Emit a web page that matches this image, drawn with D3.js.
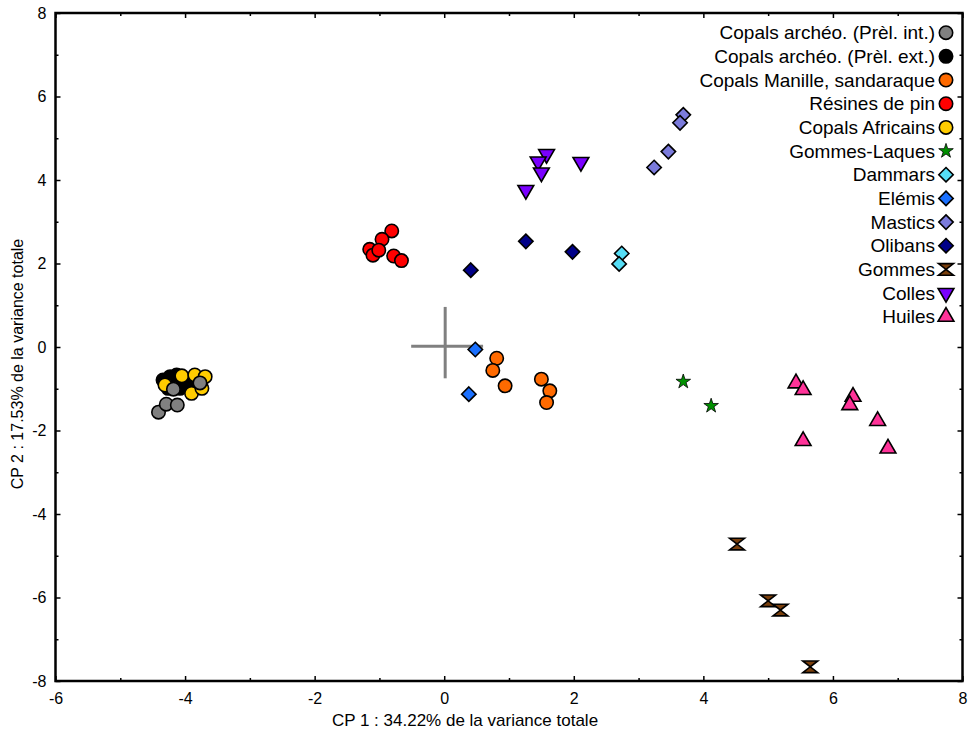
<!DOCTYPE html>
<html>
<head>
<meta charset="utf-8">
<script src="https://cdn.jsdelivr.net/npm/d3@7"></script>
<style>
  html, body { margin: 0; padding: 0; background: #fff; }
  svg { display: block; font-family: "Liberation Sans", Arial, sans-serif; }
</style>
</head>
<body>
<svg id="chart" width="970" height="733"></svg>
<script>
// ---------- DATA ----------
const xDomain = [-6, 8];
const yDomain = [-8, 8];
const xMajorTicks = [-6, -4, -2, 0, 2, 4, 6, 8];
const yMajorTicks = [-8, -6, -4, -2, 0, 2, 4, 6, 8];
const xMinorTicks = [-5, -3, -1, 1, 3, 5, 7];
const yMinorTicks = [-7, -5, -3, -1, 1, 3, 5, 7];

const xTitle = "CP 1 : 34.22% de la variance totale";
const yTitle = "CP 2 : 17.53% de la variance totale";

const seriesNames = [
  "Copals archéo. (Prèl. int.)", "Copals archéo. (Prèl. ext.)", "Copals Manille, sandaraque",
  "Résines de pin", "Copals Africains", "Gommes-Laques", "Dammars", "Elémis",
  "Mastics", "Olibans", "Gommes", "Colles", "Huiles"
];
const seriesColors = [
  "#808080", "#000000", "#ff6a00", "#ff0000", "#ffcc00", "#009000", "#55ddf5", "#1a70ff",
  "#7b7bdb", "#000088", "#7a3f0c", "#7a00ff", "#ff3399"
];
const seriesSymbols = [
  "circle", "circle", "circle", "circle", "circle", "star", "diamond", "diamond",
  "diamond", "diamond", "hourglass", "triangleDown", "triangleUp"
];

const copalsInt = [[-4.41,-1.56],[-4.29,-1.37],[-4.12,-1.39],[-4.18,-1.01],[-3.77,-0.86]];
const copalsExt = [[-4.34,-0.79],[-4.23,-0.71],[-4.13,-0.67],[-4.03,-0.75],[-3.95,-0.91],[-4.08,-0.99],[-4.26,-0.99]];
const copalsManille = [[0.81,-0.27],[0.75,-0.56],[0.94,-0.93],[1.50,-0.77],[1.63,-1.05],[1.58,-1.33]];
const resinesPin = [[-0.81,2.78],[-0.96,2.58],[-1.15,2.34],[-1.10,2.20],[-1.01,2.32],[-0.78,2.18],[-0.66,2.07]];
const copalsAfricains = [[-4.31,-0.91],[-4.05,-0.69],[-3.85,-0.67],[-3.69,-0.71],[-3.90,-1.11],[-3.74,-0.99]];
const gommesLaques = [[3.69,-0.83],[4.12,-1.41]];
const dammars = [[2.74,2.24],[2.70,1.99]];
const elemis = [[0.48,-0.06],[0.38,-1.13]];
const mastics = [[3.69,5.56],[3.64,5.37],[3.46,4.68],[3.24,4.30]];
const olibans = [[0.41,1.84],[1.26,2.53],[1.98,2.28]];
const gommes = [[4.52,-4.72],[5.00,-6.08],[5.19,-6.30],[5.65,-7.66]];
const colles = [[1.58,4.62],[1.45,4.44],[1.50,4.18],[1.26,3.76],[2.11,4.43]];
const huiles = [[5.43,-0.87],[5.54,-1.03],[6.31,-1.19],[6.26,-1.39],[6.69,-1.77],[5.54,-2.25],[6.85,-2.43]];

const seriesPoints = [copalsInt, copalsExt, copalsManille, resinesPin, copalsAfricains, gommesLaques,
  dammars, elemis, mastics, olibans, gommes, colles, huiles];
// drawing order (index into series): black under yellow under gray
const drawOrder = [1, 4, 0, 2, 3, 5, 6, 7, 8, 9, 10, 11, 12];

const crossH = [[-0.51, 0.02], [0.60, 0.02]];
const crossV = [[0.015, 0.96], [0.015, -0.75]];

// ---------- LAYOUT ----------
const svg = d3.select("#chart");
const L = 55.5, R = 962.5, T = 13, B = 681;
const x = d3.scaleLinear().domain(xDomain).range([L, R]);
const y = d3.scaleLinear().domain(yDomain).range([B, T]);

// symbols
function symbolPath(type) {
  switch (type) {
    case "circle": return d3.symbol(d3.symbolCircle, Math.PI * 6.7 * 6.7)();
    case "star": return d3.symbol(d3.symbolStar, 66)();
    case "diamond": return "M0,-7.2L7.2,0L0,7.2L-7.2,0Z";
    case "hourglass": return "M-7.5,-5.8L7.5,-5.8L0,0L7.5,5.8L-7.5,5.8L0,0Z";
    case "triangleUp": return d3.symbol(d3.symbolTriangle, 108)();
    case "triangleDown": return d3.symbol(d3.symbolTriangle, 108)();
  }
}
function symbolTransform(type, px, py) {
  if (type === "triangleDown") return `translate(${px},${py}) rotate(180)`;
  return `translate(${px},${py})`;
}
function strokeW(type) { return type === "star" ? 0.8 : 1.6; }

// crosshair
const line = d3.line().x(d => x(d[0])).y(d => y(d[1]));
svg.append("path").attr("d", line(crossH)).attr("stroke", "#808080").attr("stroke-width", 3).attr("fill", "none");
svg.append("path").attr("d", line(crossV)).attr("stroke", "#808080").attr("stroke-width", 3).attr("fill", "none");

// points
drawOrder.forEach(i => {
  const type = seriesSymbols[i];
  svg.append("g").selectAll("path")
    .data(seriesPoints[i])
    .join("path")
    .attr("d", symbolPath(type))
    .attr("transform", d => symbolTransform(type, x(d[0]), y(d[1])))
    .attr("fill", seriesColors[i])
    .attr("stroke", "#000")
    .attr("stroke-width", strokeW(type));
});

// axes (ticks inside)
function addAxis(axisFn, scale, major, minor, transform, labels, pad) {
  const g = svg.append("g").attr("transform", transform);
  g.call(axisFn(scale).tickValues(major).tickSize(-5).tickPadding(pad)
    .tickFormat(labels ? (d => String(d)) : ""));
  g.select(".domain").remove();
  g.selectAll(".tick line").attr("stroke", "#000").attr("stroke-width", 1.5);
  g.selectAll("text").attr("font-size", 16).attr("fill", "#000")
    .attr("font-family", "'Liberation Sans', Arial, sans-serif");
  const gm = svg.append("g").attr("transform", transform);
  gm.call(axisFn(scale).tickValues(minor).tickSize(-3).tickFormat(""));
  gm.select(".domain").remove();
  gm.selectAll(".tick line").attr("stroke", "#000").attr("stroke-width", 1.5);
}
addAxis(d3.axisBottom, x, xMajorTicks, xMinorTicks, `translate(0,${B})`, true, 12);
addAxis(d3.axisTop, x, xMajorTicks, xMinorTicks, `translate(0,${T})`, false, 3);
addAxis(d3.axisLeft, y, yMajorTicks, yMinorTicks, `translate(${L},0)`, true, 9);
addAxis(d3.axisRight, y, yMajorTicks, yMinorTicks, `translate(${R},0)`, false, 3);

// frame
svg.append("rect").attr("x", L).attr("y", T).attr("width", R - L).attr("height", B - T)
  .attr("fill", "none").attr("stroke", "#000").attr("stroke-width", 2.5);

// axis titles
svg.append("text").attr("x", 465).attr("y", 726).attr("text-anchor", "middle")
  .attr("font-size", 17).attr("fill", "#000").text(xTitle);
svg.append("text").attr("transform", "translate(23,364) rotate(-90)").attr("text-anchor", "middle")
  .attr("font-size", 16).attr("fill", "#000").text(yTitle);

// legend
const legY0 = 32.7, legDy = 23.67, legTextX = 935, legSymX = 946;
seriesNames.forEach((name, i) => {
  const ly = legY0 + i * legDy;
  const type = seriesSymbols[i];
  svg.append("text").attr("x", legTextX).attr("y", ly).attr("dy", "0.35em")
    .attr("text-anchor", "end").attr("font-size", 19).attr("fill", "#000").text(name);
  svg.append("path").attr("d", symbolPath(type))
    .attr("transform", symbolTransform(type, legSymX, ly))
    .attr("fill", seriesColors[i]).attr("stroke", "#000").attr("stroke-width", strokeW(type));
});
</script>
</body>
</html>
